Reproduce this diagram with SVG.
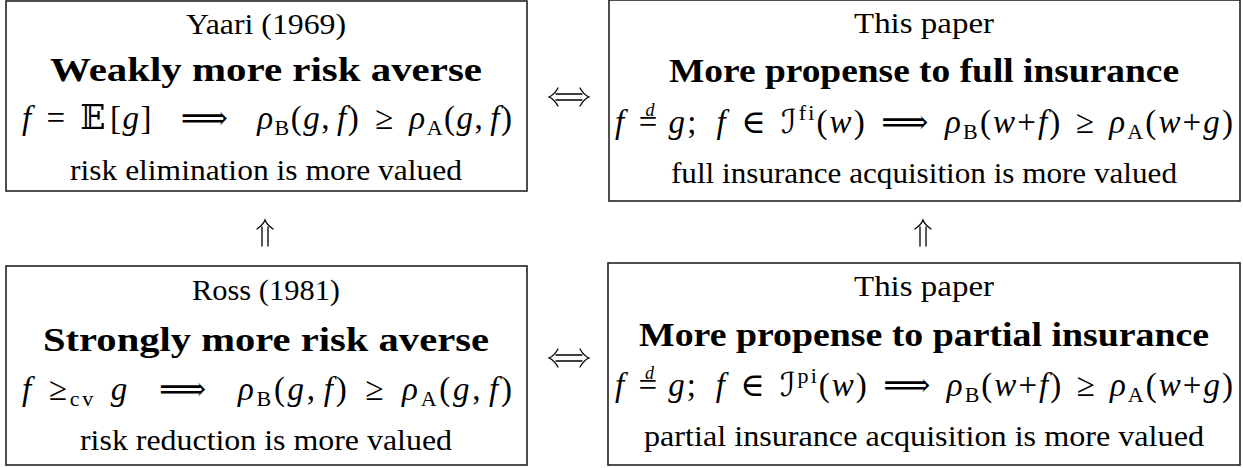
<svg xmlns="http://www.w3.org/2000/svg" width="1243" height="468" viewBox="0 0 1243 468">
<style>
  .box { fill: #ffffff; stroke: #222222; stroke-width: 1.6; }
  .t { font-family: "Liberation Serif", "DejaVu Serif", serif; font-size: 29px; fill: #000; text-anchor: middle; }
  .b { font-family: "Liberation Serif", "DejaVu Serif", serif; font-size: 33px; font-weight: bold; fill: #000; text-anchor: middle; }
  .m { font-family: "Liberation Serif", "DejaVu Serif", "DejaVu Sans", serif; font-size: 33px; fill: #000; text-anchor: middle; }
  .i { font-style: italic; }
  .s { font-size: 22px; }
  .d { font-size: 18px; font-style: italic; }
  .arr { fill: none; stroke: #000; stroke-width: 1.3; stroke-linecap: round; }
</style>
<rect width="1243" height="468" fill="#ffffff"/>

<g id="yaari">
  <rect class="box" x="6" y="1" width="521" height="190"/>
  <text class="t" x="266" y="34" textLength="160" lengthAdjust="spacingAndGlyphs">Yaari (1969)</text>
  <text class="b" x="266" y="81" textLength="432" lengthAdjust="spacingAndGlyphs">Weakly more risk averse</text>
  <text class="m" x="267" y="129" textLength="490" lengthAdjust="spacing"><tspan class="i">f</tspan> <tspan dx="4">=</tspan> <tspan dx="4">𝔼</tspan><tspan dx="3">[</tspan><tspan class="i">g</tspan>] <tspan dx="18">⟹</tspan> <tspan dx="18" class="i">ρ</tspan><tspan class="s" dy="6">B</tspan><tspan dy="-6">(</tspan><tspan class="i">g</tspan>,<tspan class="i" dx="6">f</tspan>) <tspan dx="5">≥</tspan> <tspan dx="5" class="i">ρ</tspan><tspan class="s" dy="6">A</tspan><tspan dy="-6">(</tspan><tspan class="i">g</tspan>,<tspan class="i" dx="6">f</tspan>)</text>
  <text class="t" x="266" y="180" textLength="392" lengthAdjust="spacingAndGlyphs">risk elimination is more valued</text>
</g>

<g id="full">
  <rect class="box" x="609" y="0" width="631" height="201"/>
  <text class="t" x="924" y="33" textLength="140" lengthAdjust="spacingAndGlyphs">This paper</text>
  <text class="b" x="924" y="82" textLength="510" lengthAdjust="spacingAndGlyphs">More propense to full insurance</text>
  <text class="m" x="924" y="133" textLength="618" lengthAdjust="spacing"><tspan class="i">f</tspan> <tspan dx="2">=</tspan><tspan class="d" dx="-14" dy="-17">d</tspan><tspan class="i" dx="12" dy="17">g</tspan>;<tspan class="i" dx="18">f</tspan> <tspan dx="3">∈</tspan> <tspan dx="3">ℐ</tspan><tspan class="s" dy="-13">fi</tspan><tspan dy="13">(</tspan><tspan class="i">w</tspan>) <tspan dx="4">⟹</tspan> <tspan dx="4" class="i">ρ</tspan><tspan class="s" dy="6">B</tspan><tspan dy="-6">(</tspan><tspan class="i">w</tspan>+<tspan class="i">f</tspan>) <tspan dx="3">≥</tspan> <tspan dx="3" class="i">ρ</tspan><tspan class="s" dy="6">A</tspan><tspan dy="-6">(</tspan><tspan class="i">w</tspan>+<tspan class="i">g</tspan>)</text>
  <text class="t" x="924" y="183" textLength="506" lengthAdjust="spacingAndGlyphs">full insurance acquisition is more valued</text>
</g>

<g id="ross">
  <rect class="box" x="6" y="266" width="521" height="199"/>
  <text class="t" x="266" y="300" textLength="148" lengthAdjust="spacingAndGlyphs">Ross (1981)</text>
  <text class="b" x="266" y="351" textLength="446" lengthAdjust="spacingAndGlyphs">Strongly more risk averse</text>
  <text class="m" x="267" y="400" textLength="490" lengthAdjust="spacing"><tspan class="i">f</tspan> <tspan dx="4">≥</tspan><tspan class="s" dy="6">cv</tspan> <tspan class="i" dx="4" dy="-6">g</tspan> <tspan dx="18">⟹</tspan> <tspan dx="18" class="i">ρ</tspan><tspan class="s" dy="6">B</tspan><tspan dy="-6">(</tspan><tspan class="i">g</tspan>,<tspan class="i" dx="6">f</tspan>) <tspan dx="5">≥</tspan> <tspan dx="5" class="i">ρ</tspan><tspan class="s" dy="6">A</tspan><tspan dy="-6">(</tspan><tspan class="i">g</tspan>,<tspan class="i" dx="6">f</tspan>)</text>
  <text class="t" x="266" y="450" textLength="372" lengthAdjust="spacingAndGlyphs">risk reduction is more valued</text>
</g>

<g id="partial">
  <rect class="box" x="608" y="263" width="632" height="202"/>
  <text class="t" x="924" y="296" textLength="140" lengthAdjust="spacingAndGlyphs">This paper</text>
  <text class="b" x="924" y="346" textLength="570" lengthAdjust="spacingAndGlyphs">More propense to partial insurance</text>
  <text class="m" x="924" y="396" textLength="618" lengthAdjust="spacing"><tspan class="i">f</tspan> <tspan dx="2">=</tspan><tspan class="d" dx="-14" dy="-17">d</tspan><tspan class="i" dx="12" dy="17">g</tspan>;<tspan class="i" dx="18">f</tspan> <tspan dx="3">∈</tspan> <tspan dx="3">ℐ</tspan><tspan class="s" dy="-13">pi</tspan><tspan dy="13">(</tspan><tspan class="i">w</tspan>) <tspan dx="4">⟹</tspan> <tspan dx="4" class="i">ρ</tspan><tspan class="s" dy="6">B</tspan><tspan dy="-6">(</tspan><tspan class="i">w</tspan>+<tspan class="i">f</tspan>) <tspan dx="3">≥</tspan> <tspan dx="3" class="i">ρ</tspan><tspan class="s" dy="6">A</tspan><tspan dy="-6">(</tspan><tspan class="i">w</tspan>+<tspan class="i">g</tspan>)</text>
  <text class="t" x="924" y="446" textLength="560" lengthAdjust="spacingAndGlyphs">partial insurance acquisition is more valued</text>
</g>

<g id="connectors">
  <g id="iff-top">
    <path class="arr" d="M556 94 H582 M556 100 H582"/>
    <path class="arr" d="M558 88 Q554 95 549 97 Q554 99 558 106"/>
    <path class="arr" d="M580 88 Q584 95 589 97 Q584 99 580 106"/>
  </g>
  <g id="iff-bottom">
    <path class="arr" d="M556 355 H582 M556 361 H582"/>
    <path class="arr" d="M558 349 Q554 356 549 358 Q554 360 558 367"/>
    <path class="arr" d="M580 349 Q584 356 589 358 Q584 360 580 367"/>
  </g>
  <g id="up-left">
    <path class="arr" d="M262 227 V246 M268 227 V246"/>
    <path class="arr" d="M257 229 Q263 225 265 220 Q267 225 273 229"/>
  </g>
  <g id="up-right">
    <path class="arr" d="M920 227 V246 M926 227 V246"/>
    <path class="arr" d="M915 229 Q921 225 923 220 Q925 225 931 229"/>
  </g>
</g>
</svg>
